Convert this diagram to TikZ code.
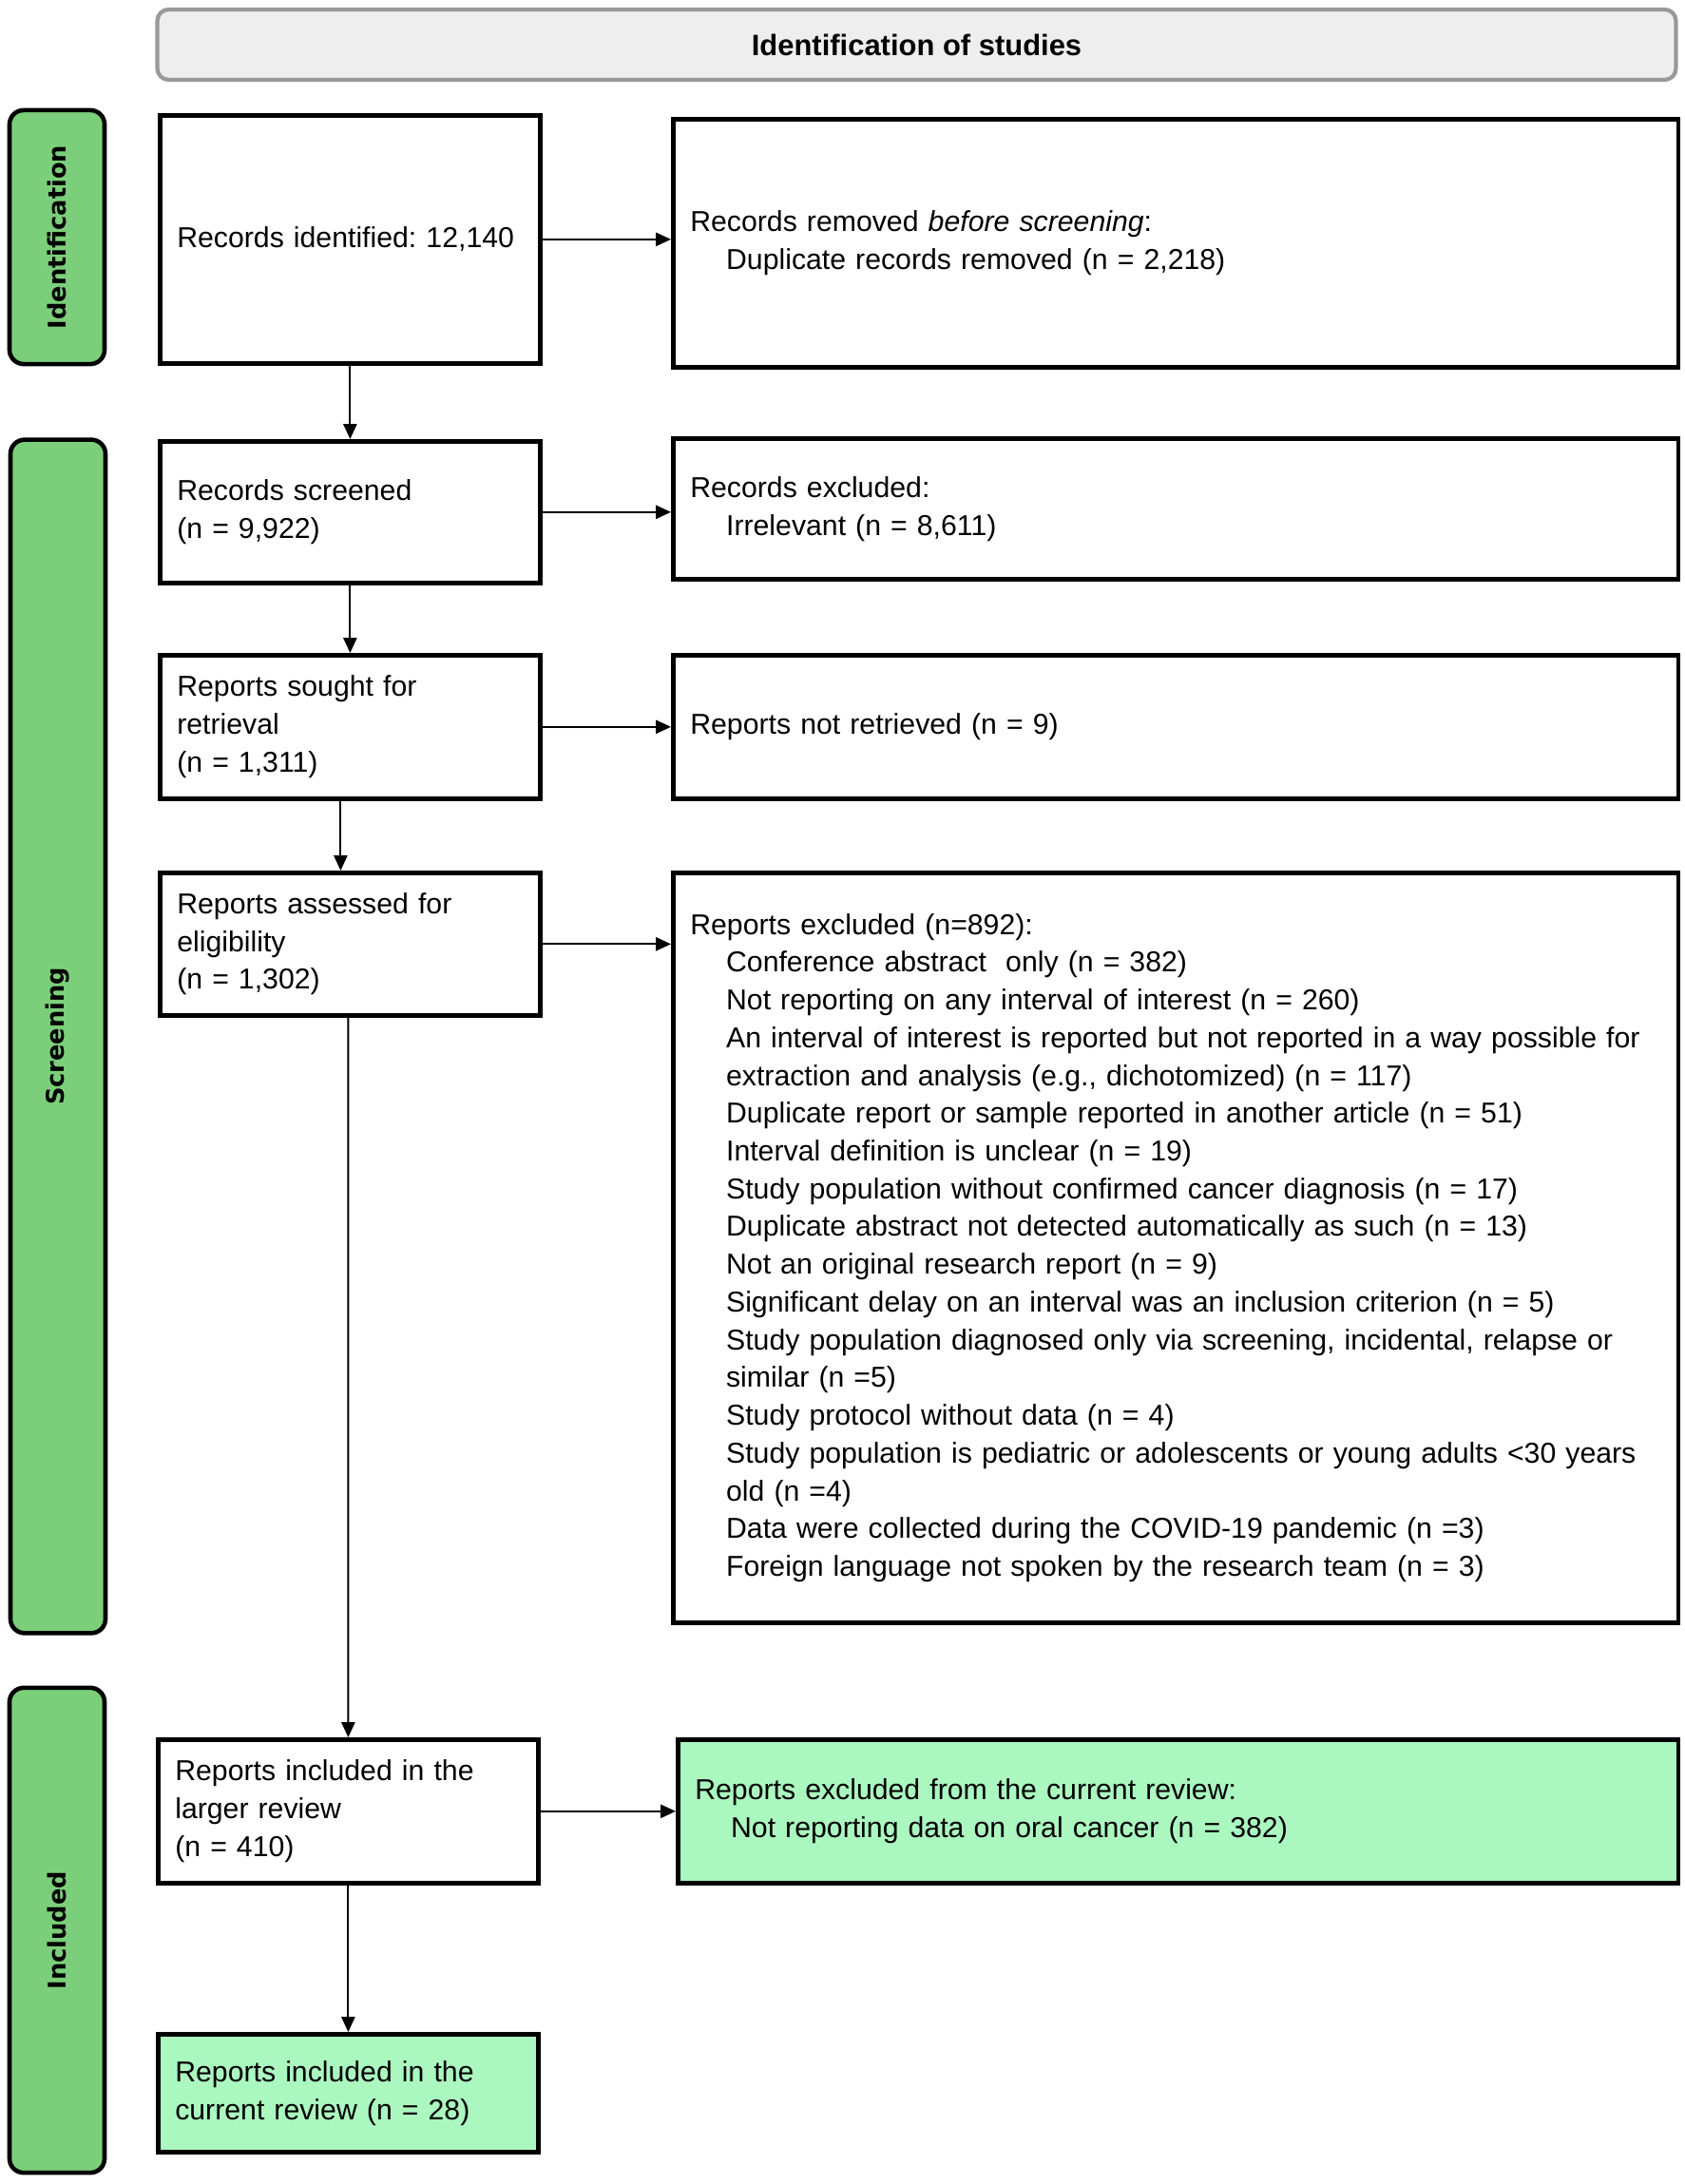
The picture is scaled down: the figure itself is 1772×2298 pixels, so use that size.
\documentclass[tikz,border=0pt]{standalone}
\usepackage{fontspec}
\setmainfont{Liberation Sans}
\newfontfamily\phasefont{DejaVu Sans}
\usepackage{xcolor}
\usetikzlibrary{arrows.meta}
\definecolor{phasegreen}{HTML}{7CCF7A}
\definecolor{keptgreen}{HTML}{ABF7C0}
\definecolor{headfill}{HTML}{EEEEEE}
\definecolor{headdraw}{HTML}{999999}
\newcommand{\reason}{\hspace*{1.25em}}
\frenchspacing
\tikzset{
  stage/.style   = { draw, line width=1.3pt, anchor=north west, align=left,
                     inner xsep=0.18cm, inner ysep=0pt,
                     font=\fontsize{8.6}{11.3}\selectfont },
  kept/.style    = { stage, fill=keptgreen },
  phase/.style   = { draw, line width=1.3pt, fill=phasegreen, rounded corners=0.15cm,
                     rotate=90, minimum height=1.0cm,
                     font=\phasefont\bfseries\fontsize{7.3}{8}\selectfont },
  header/.style  = { draw=headdraw, line width=1.2pt, fill=headfill, rounded corners=0.12cm,
                     minimum width=15.97cm, minimum height=0.74cm,
                     font=\bfseries\fontsize{8.8}{10}\selectfont },
  flow/.style    = { line width=0.6pt, -{Triangle[length=4.5pt,width=4pt]} }
}

\begin{document}
\begin{tikzpicture}[x=0.01cm,y=-0.01cm]
\useasboundingbox (0,0) rectangle (1772,2298);

% header and phases
\node[header] (studies) at (964.5,47) {Identification of studies};
\node[phase, minimum width=2.67cm]  (identification) at (60,249.5) {Identification};
\node[phase, minimum width=12.55cm] (screening)      at (61,1090.5) {Screening};
\node[phase, minimum width=5.10cm]  (included)       at (60,2031) {Included};

% left column
\node[stage, text width=3.64cm, minimum height=2.61cm] (identified) at (166,119)
  {Records identified: 12,140};
\node[stage, text width=3.64cm, minimum height=1.49cm] (screened) at (166,462)
  {Records screened\\(n = 9,922)};
\node[stage, text width=3.64cm, minimum height=1.51cm] (sought) at (166,687)
  {Reports sought for\\retrieval\\(n = 1,311)};
\node[stage, text width=3.64cm, minimum height=1.50cm] (assessed) at (166,916)
  {Reports assessed for\\eligibility\\(n = 1,302)};
\node[stage, text width=3.64cm, minimum height=1.51cm] (larger) at (164,1828)
  {Reports included in the\\larger review\\(n = 410)};
\node[kept, text width=3.64cm, minimum height=1.24cm] (current) at (164,2138)
  {Reports included in the\\current review (n = 28)};

% right column
\node[stage, text width=10.21cm, minimum height=2.61cm] (removed) at (706,123)
  {Records removed \textit{before screening}:\\
   \reason Duplicate records removed (n = 2,218)};
\node[stage, text width=10.21cm, minimum height=1.48cm] (excluded) at (706,459)
  {Records excluded:\\
   \reason Irrelevant (n = 8,611)};
\node[stage, text width=10.21cm, minimum height=1.51cm] (notretrieved) at (706,687)
  {Reports not retrieved (n = 9)};
\node[stage, text width=10.21cm, minimum height=7.89cm] (reasons) at (706,916)
  {Reports excluded (n=892):\\
   \reason Conference abstract\ \ only (n = 382)\\
   \reason Not reporting on any interval of interest (n = 260)\\
   \reason An interval of interest is reported but not reported in a way possible for\\
   \reason extraction and analysis (e.g., dichotomized) (n = 117)\\
   \reason Duplicate report or sample reported in another article (n = 51)\\
   \reason Interval definition is unclear (n = 19)\\
   \reason Study population without confirmed cancer diagnosis (n = 17)\\
   \reason Duplicate abstract not detected automatically as such (n = 13)\\
   \reason Not an original research report (n = 9)\\
   \reason Significant delay on an interval was an inclusion criterion (n = 5)\\
   \reason Study population diagnosed only via screening, incidental, relapse or\\
   \reason similar (n =5)\\
   \reason Study protocol without data (n = 4)\\
   \reason Study population is pediatric or adolescents or young adults <30 years\\
   \reason old (n =4)\\
   \reason Data were collected during the COVID-19 pandemic (n =3)\\
   \reason Foreign language not spoken by the research team (n = 3)};
\node[kept, text width=10.16cm, minimum height=1.51cm] (notoral) at (711,1828)
  {Reports excluded from the current review:\\
   \reason Not reporting data on oral cancer (n = 382)};

% connectors
\draw[flow] (identified) -- (identified -| removed.west);
\draw[flow] (screened) -- (screened -| excluded.west);
\draw[flow] (sought) -- (sought -| notretrieved.west);
\draw[flow] (assessed) -- (assessed -| reasons.west);
\draw[flow] (larger) -- (larger -| notoral.west);
\draw[flow] (identified.south) -- (identified.south |- screened.north);
\draw[flow] (screened.south) -- (screened.south |- sought.north);
\draw[flow] ([xshift=-0.1cm]sought.south) -- ([xshift=-0.1cm]sought.south |- assessed.north);
\draw[flow] ([xshift=-0.02cm]assessed.south) -- (larger.north);
\draw[flow] (larger.south) -- (current.north);
\end{tikzpicture}
\end{document}
